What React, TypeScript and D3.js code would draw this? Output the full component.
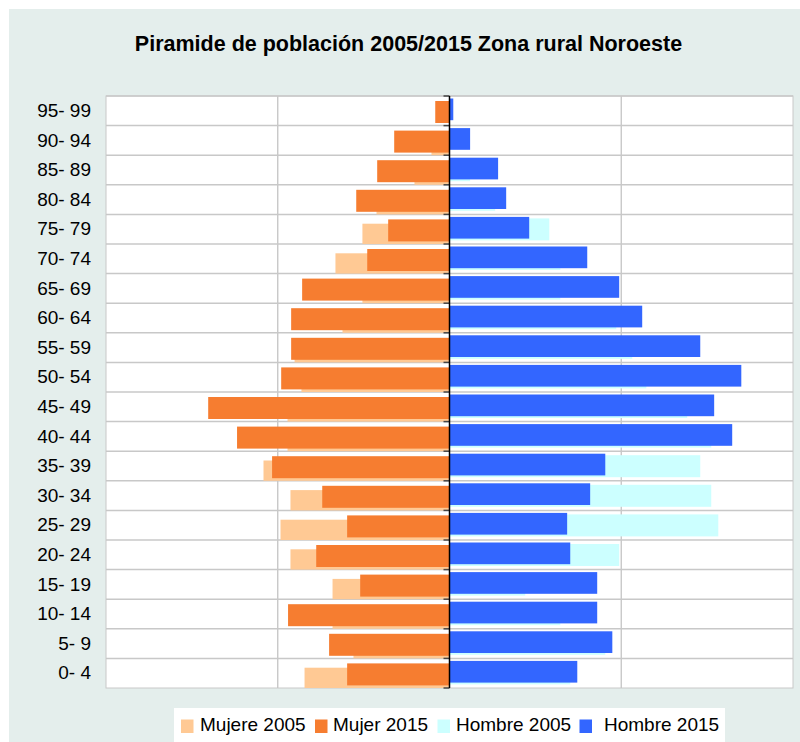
import React from "react";
import * as d3 from "d3";

const ageGroups = ["95- 99","90- 94","85- 89","80- 84","75- 79","70- 74","65- 69","60- 64","55- 59","50- 54","45- 49","40- 44","35- 39","30- 34","25- 29","20- 24","15- 19","10- 14","5- 9","0- 4"];
const mujer2005 = [0, 105, 204, 425, 507, 664, 507, 623, 902, 862, 943, 943, 1083, 926, 984, 926, 681, 681, 559, 844];
const mujer2015 = [83, 322, 421, 543, 357, 479, 858, 922, 922, 980, 1405, 1237, 1033, 741, 596, 776, 520, 940, 701, 596];
const hombre2005 = [0, 0, 120, 266, 581, 645, 645, 971, 1064, 1146, 1384, 1524, 1460, 1524, 1565, 988, 441, 645, 907, 703];
const hombre2015 = [22, 120, 283, 330, 464, 802, 988, 1122, 1460, 1699, 1541, 1646, 907, 819, 685, 703, 860, 860, 948, 744];
const gridTicks = [-2000, -1000, 0, 1000, 2000];
const legendItems = ["Mujere 2005", "Mujer 2015", "Hombre 2005", "Hombre 2015"];

const C_M05 = "#ffc994";
const C_M15 = "#f67d30";
const C_H05 = "#ccffff";
const C_H15 = "#3366ff";
const FONT = "'Liberation Sans', Arial, sans-serif";

export default function App() {
  const left = 106, right = 793, top = 96, bottom = 688;
  const x = d3.scaleLinear().domain([-2000, 2000]).range([left, right]);
  const y = d3.scaleBand().domain(ageGroups).range([top, bottom]).padding(0);
  const bw = y.bandwidth();
  const x0 = x(0);

  const legendColors = [C_M05, C_M15, C_H05, C_H15];
  const legendSwatchX = [181, 315, 437.5, 579.5];
  const legendTextX = [200, 333, 456, 604];

  return (
    <svg width={800} height={742} style={{ position: "absolute", left: 0, top: 0, display: "block" }}>
      <rect x={9} y={9} width={791} height={733} fill="#e4eeec" />
      <text x={408.5} y={51} textAnchor="middle" fontFamily={FONT} fontWeight="bold" fontSize={21.5} fill="#000">
        Piramide de población 2005/2015 Zona rural Noroeste
      </text>
      <rect x={left} y={top} width={right - left} height={bottom - top} fill="#fff" stroke="#c8c8c8" strokeWidth={1} />
      {gridTicks.filter(t => t !== 0 && Math.abs(t) !== 2000).map(t => (
        <line key={t} x1={x(t)} x2={x(t)} y1={top} y2={bottom} stroke="#c4c4c4" strokeWidth={1.3} />
      ))}
      {ageGroups.map((g, i) => (
        <line key={"h" + i} x1={left} x2={right} y1={(y(g) as number)} y2={(y(g) as number)} stroke="#c8c8c8" strokeWidth={1.5} />
      ))}
      {ageGroups.map((g, i) => (
        <rect key={"m05" + i} x={x(-mujer2005[i])} y={(y(g) as number) + 9.3} width={x0 - x(-mujer2005[i])} height={bw - 9.3} fill={C_M05} />
      ))}
      {ageGroups.map((g, i) => (
        <rect key={"m15" + i} x={x(-mujer2015[i])} y={(y(g) as number) + 5} width={x0 - x(-mujer2015[i])} height={22} fill={C_M15} />
      ))}
      {ageGroups.map((g, i) => (
        <rect key={"h05" + i} x={x0} y={(y(g) as number) + 4} width={x(hombre2005[i]) - x0} height={22} fill={C_H05} />
      ))}
      {ageGroups.map((g, i) => (
        <rect key={"h15" + i} x={x0} y={(y(g) as number) + 2.5} width={x(hombre2015[i]) - x0} height={21.7} fill={C_H15} />
      ))}
      {ageGroups.map((g, i) => (
        <line key={"t" + i} x1={x0 - 6} x2={x0} y1={(y(g) as number)} y2={(y(g) as number)} stroke="#444" strokeWidth={1.5} />
      ))}
      <line x1={x0 - 6} x2={x0} y1={bottom} y2={bottom} stroke="#444" strokeWidth={1.5} />
      <line x1={x0} x2={x0} y1={top} y2={bottom} stroke="#000" strokeWidth={1.5} />
      {ageGroups.map((g, i) => (
        <text key={"l" + i} x={91} y={(y(g) as number) + 21} textAnchor="end" fontFamily={FONT} fontSize={19} fill="#000">
          {g}
        </text>
      ))}
      <rect x={174} y={708} width={551} height={40} fill="#fff" />
      {legendItems.map((name, i) => (
        <g key={name}>
          <rect x={legendSwatchX[i]} y={719.5} width={12.5} height={13.5} fill={legendColors[i]} />
          <text x={legendTextX[i]} y={731} fontFamily={FONT} fontSize={19} fill="#000">{name}</text>
        </g>
      ))}
    </svg>
  );
}
